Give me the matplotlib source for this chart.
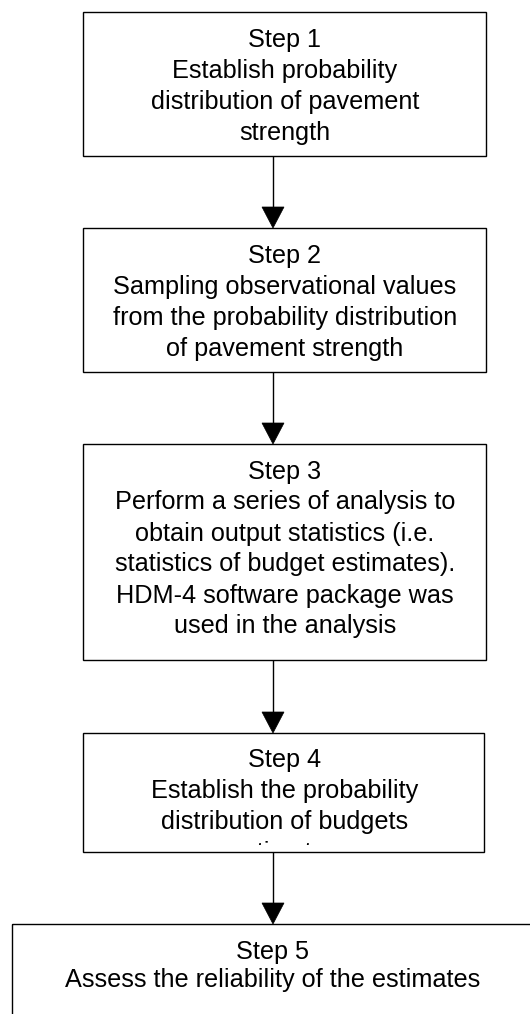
import matplotlib
matplotlib.use("Agg")
import matplotlib.pyplot as plt
from matplotlib.patches import Rectangle, Polygon

plt.rcParams['font.family'] = ['Liberation Sans', 'DejaVu Sans']

# ---- content ----
step_titles = ["Step 1", "Step 2", "Step 3", "Step 4", "Step 5"]
step_lines = [
    ["Establish probability", "distribution of pavement", "strength"],
    ["Sampling observational values", "from the probability distribution",
     "of pavement strength"],
    ["Perform a series of analysis to", "obtain output statistics (i.e.",
     "statistics of budget estimates).", "HDM-4 software package was",
     "used in the analysis"],
    ["Establish the probability", "distribution of budgets", "estimates"],
    ["Assess the reliability of the estimates"],
]

# ---- layout (pixels, origin top-left) ----
W, H = 530, 1014
box_left = [83, 83, 83, 83, 12]
box_right = [486, 486, 486, 484, 545]
box_top = [12, 228, 444, 733, 924]
box_bottom = [156, 372, 660, 852, 1030]
text_cx = [285, 285, 285, 285, 273]
line_gap = [31.3, 31.3, 31, 30.8, 28]
first_baseline_offset = 34.5
text_margin_bottom = 7
arrow_x = 273
head_w, head_h = 22, 21
fs = 18.2

fig = plt.figure(figsize=(W / 100, H / 100), dpi=100)
ax = fig.add_axes([0, 0, 1, 1])
ax.set_xlim(0, W)
ax.set_ylim(H, 0)
ax.axis('off')

for i in range(5):
    rect = Rectangle((box_left[i], box_top[i]), box_right[i] - box_left[i],
                     box_bottom[i] - box_top[i], fill=False,
                     edgecolor='black', linewidth=1.0)
    ax.add_patch(rect)
    clip_rect = Rectangle((box_left[i], box_top[i]), box_right[i] - box_left[i],
                          box_bottom[i] - box_top[i] - text_margin_bottom,
                          transform=ax.transData)
    lines = [step_titles[i]] + step_lines[i]
    for j, ln in enumerate(lines):
        y = box_top[i] + first_baseline_offset + j * line_gap[i]
        t = ax.text(text_cx[i], y, ln, ha='center', va='baseline',
                    fontsize=fs, color='black', clip_on=True)
        t.set_clip_path(clip_rect)

# arrows between boxes
for i in range(4):
    y0 = box_bottom[i]
    y1 = box_top[i + 1]
    ax.plot([arrow_x, arrow_x], [y0, y1 - head_h + 1], color='black',
            linewidth=1.0, solid_capstyle='butt')
    tri = Polygon([[arrow_x - head_w / 2, y1 - head_h],
                   [arrow_x + head_w / 2, y1 - head_h],
                   [arrow_x, y1]], closed=True, facecolor='black',
                  edgecolor='black', linewidth=0.5)
    ax.add_patch(tri)

fig.savefig("out.png", dpi=100, facecolor='white')
